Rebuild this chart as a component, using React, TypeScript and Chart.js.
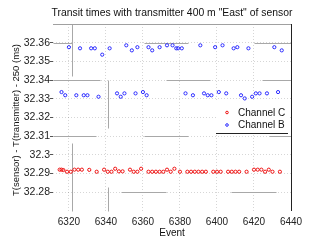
import React, { useEffect, useRef } from "react";
import { Chart, registerables } from "chart.js";
Chart.register(...registerables);

const titleText = 'Transit times with transmitter 400 m "East" of sensor';
const xLabel = "Event";
const yLabel = "T(sensor) - T(transmitter) - 250 (ms)";

const xTicks = [6320, 6340, 6360, 6380, 6400, 6420, 6440];
const yTicks = [32.28, 32.29, 32.3, 32.31, 32.32, 32.33, 32.34, 32.35, 32.36];

const channelCEvents = [
  6315, 6316, 6317, 6319, 6321, 6323, 6325, 6327, 6331, 6335, 6339, 6341, 6343, 6345, 6347, 6349,
  6353, 6355, 6357, 6359, 6363, 6365, 6367, 6369, 6371, 6373, 6375, 6377, 6380, 6384, 6386, 6388,
  6390, 6392, 6394, 6398, 6400, 6402, 6406, 6408, 6410, 6412, 6416, 6420, 6422, 6424, 6426, 6428,
  6430, 6434,
];
const channelCValues = [
  32.2921, 32.2921, 32.2919, 32.291, 32.291, 32.2921, 32.2921, 32.2921, 32.292, 32.291, 32.2921, 32.291,
  32.291, 32.2926, 32.2912, 32.2912, 32.2921, 32.291, 32.291, 32.2926, 32.291, 32.291, 32.291, 32.291,
  32.291, 32.2921, 32.291, 32.2926, 32.291, 32.291, 32.291, 32.291, 32.291, 32.291, 32.291, 32.291,
  32.291, 32.291, 32.291, 32.291, 32.291, 32.291, 32.291, 32.2921, 32.2921, 32.2921, 32.291, 32.2921,
  32.291, 32.291,
];

const channelBEvents = [
  6316, 6318, 6320, 6324, 6326, 6328, 6330, 6332, 6334, 6336, 6338, 6342, 6346, 6348, 6350, 6351,
  6354, 6356, 6357, 6360, 6362, 6363, 6365, 6369, 6373, 6376, 6378, 6379, 6381, 6383, 6387, 6391,
  6393, 6395, 6397, 6399, 6401, 6403, 6405, 6409, 6411, 6413, 6415, 6417, 6419, 6421, 6423, 6427,
  6431, 6433, 6435,
];
const channelBValues = [
  32.3336, 32.3319, 32.3576, 32.3319, 32.357, 32.3319, 32.3319, 32.357, 32.357, 32.3311, 32.3536, 32.357,
  32.3329, 32.3311, 32.3329, 32.3586, 32.3559, 32.3329, 32.3576, 32.3336, 32.3319, 32.3576, 32.3559, 32.3576,
  32.3586, 32.3586, 32.357, 32.357, 32.357, 32.3329, 32.3319, 32.3586, 32.3329, 32.3319, 32.3319, 32.3576,
  32.3336, 32.3586, 32.3329, 32.357, 32.3576, 32.3319, 32.3302, 32.357, 32.3311, 32.3329, 32.3329, 32.3329,
  32.3576, 32.3336, 32.3559,
];

// stray grey grid segments of the original figure, in axis units: x1, y1, x2, y2
const gridArtifacts: [number, number, number, number][] = [
  [6321.5, 32.37, 6321.5, 32.342],
  [6321.5, 32.3065, 6321.5, 32.27],
  [6341.2, 32.3403, 6341.2, 32.3145],
  [6341.2, 32.2829, 6341.2, 32.27],
  [6311.4, 32.36, 6321.5, 32.36],
  [6360.4, 32.36, 6384.1, 32.36],
  [6420.2, 32.36, 6440, 32.36],
  [6311.4, 32.34, 6336.7, 32.34],
  [6372.6, 32.34, 6396, 32.34],
  [6424.5, 32.34, 6440, 32.34],
  [6311.4, 32.31, 6334.9, 32.31],
  [6360.4, 32.31, 6384.1, 32.31],
  [6428.3, 32.31, 6440, 32.31],
  [6348.4, 32.28, 6372.6, 32.28],
  [6407.7, 32.28, 6431.9, 32.28],
];

const FONT = "'Liberation Sans', Arial, sans-serif";

const decorPlugin = {
  id: "decor",
  beforeDatasetsDraw(chart: any) {
    const { ctx, scales } = chart;
    const xs = scales.x;
    const ys = scales.y;
    ctx.save();
    ctx.lineWidth = 1;
    ctx.strokeStyle = "#a8a8a8";
    for (const [x1, y1, x2, y2] of gridArtifacts) {
      const px1 = Math.round(xs.getPixelForValue(x1)) + 0.5;
      const px2 = Math.round(xs.getPixelForValue(x2)) + 0.5;
      const py1 = Math.round(ys.getPixelForValue(y1)) + 0.5;
      const py2 = Math.round(ys.getPixelForValue(y2)) + 0.5;
      ctx.beginPath();
      ctx.moveTo(px1, py1);
      ctx.lineTo(px2, py2);
      ctx.stroke();
    }
    ctx.restore();
  },
  afterDraw(chart: any) {
    const { ctx, chartArea: a } = chart;
    ctx.save();
    // box
    ctx.lineWidth = 1;
    ctx.strokeStyle = "#a0a0a0";
    ctx.beginPath();
    ctx.moveTo(a.left, Math.round(a.top) + 0.5);
    ctx.lineTo(a.right, Math.round(a.top) + 0.5);
    ctx.stroke();
    ctx.strokeStyle = "#222";
    ctx.beginPath();
    ctx.moveTo(Math.round(a.right) + 0.5, a.top);
    ctx.lineTo(Math.round(a.right) + 0.5, a.bottom);
    ctx.stroke();

    // title and axis titles
    ctx.fillStyle = "#111";
    ctx.textAlign = "center";
    ctx.textBaseline = "middle";
    const cx = (a.left + a.right) / 2;
    ctx.font = `10.4px ${FONT}`;
    ctx.fillText(titleText, cx, 13);
    ctx.font = `10px ${FONT}`;
    ctx.fillText(xLabel, cx, 233);
    ctx.save();
    ctx.translate(16, 120);
    ctx.rotate(-Math.PI / 2);
    ctx.font = `9.5px ${FONT}`;
    ctx.fillText(yLabel, 0, 0);
    ctx.restore();

    // legend
    ctx.font = `10px ${FONT}`;
    const lx = 216, ly = 101, lw = 72, lh = 32;
    ctx.fillStyle = "#fff";
    ctx.fillRect(lx, ly, lw, lh);
    ctx.strokeStyle = "#222";
    ctx.beginPath();
    ctx.moveTo(lx, ly + lh + 0.5);
    ctx.lineTo(lx + lw, ly + lh + 0.5);
    ctx.stroke();
    ctx.textAlign = "left";
    chart.data.datasets.forEach((ds: any, i: number) => {
      const yy = 112.5 + i * 12.5;
      ctx.strokeStyle = ds.borderColor;
      ctx.lineWidth = 1;
      ctx.beginPath();
      ctx.arc(227, yy, 1.3, 0, Math.PI * 2);
      ctx.stroke();
      ctx.fillStyle = "#111";
      ctx.fillText(ds.label, 238, yy + 0.5);
    });
    ctx.restore();
  },
};

export default function App() {
  const ref = useRef<HTMLCanvasElement>(null);
  useEffect(() => {
    if (!ref.current) return;
    const chart = new Chart(ref.current, {
      type: "scatter",
      data: {
        datasets: [
          {
            label: "Channel C",
            data: channelCEvents.map((e, i) => ({ x: e, y: channelCValues[i] })),
            borderColor: "#ee1111",
            backgroundColor: "rgba(255,255,255,0)",
            pointRadius: 1.6,
            borderWidth: 1,
          },
          {
            label: "Channel B",
            data: channelBEvents.map((e, i) => ({ x: e, y: channelBValues[i] })),
            borderColor: "#2a2aff",
            backgroundColor: "rgba(255,255,255,0)",
            pointRadius: 1.6,
            borderWidth: 1,
          },
        ],
      },
      options: {
        responsive: false,
        animation: false,
        devicePixelRatio: 1,
        layout: { padding: { top: 24, right: 31, left: 0, bottom: 0 } },
        plugins: { legend: { display: false }, title: { display: false }, tooltip: { enabled: false } },
        scales: {
          x: {
            type: "linear",
            min: 6311.4,
            max: 6440,
            afterBuildTicks: (s: any) => {
              s.ticks = xTicks.map((v) => ({ value: v }));
            },
            afterFit: (s: any) => {
              s.height = 31;
            },
            grid: { color: "rgba(0,0,0,0.16)", drawTicks: false },
            border: { display: false, dash: [1, 2] },
            ticks: {
              padding: 5,
              color: "#222",
              font: { family: FONT, size: 10 },
              maxRotation: 0,
              callback: (v: any) => String(v),
            },
          },
          y: {
            type: "linear",
            min: 32.27,
            max: 32.37,
            afterBuildTicks: (s: any) => {
              s.ticks = yTicks.map((v) => ({ value: v }));
            },
            afterFit: (s: any) => {
              s.width = 53;
            },
            grid: { color: "rgba(0,0,0,0.16)", tickLength: 3, tickColor: "#555", tickBorderDash: [] },
            border: { display: false, dash: [1, 2] },
            ticks: {
              padding: 0,
              color: "#222",
              font: { family: FONT, size: 10.5 },
              callback: (v: any) => String(Number(Number(v).toFixed(2))),
            },
          },
        },
      },
      plugins: [decorPlugin],
    } as any);
    return () => chart.destroy();
  }, []);
  return (
    <div style={{ position: "absolute", left: 0, top: 0, width: 322, height: 242, background: "#fff" }}>
      <canvas ref={ref} width={322} height={242} style={{ display: "block" }} />
    </div>
  );
}
